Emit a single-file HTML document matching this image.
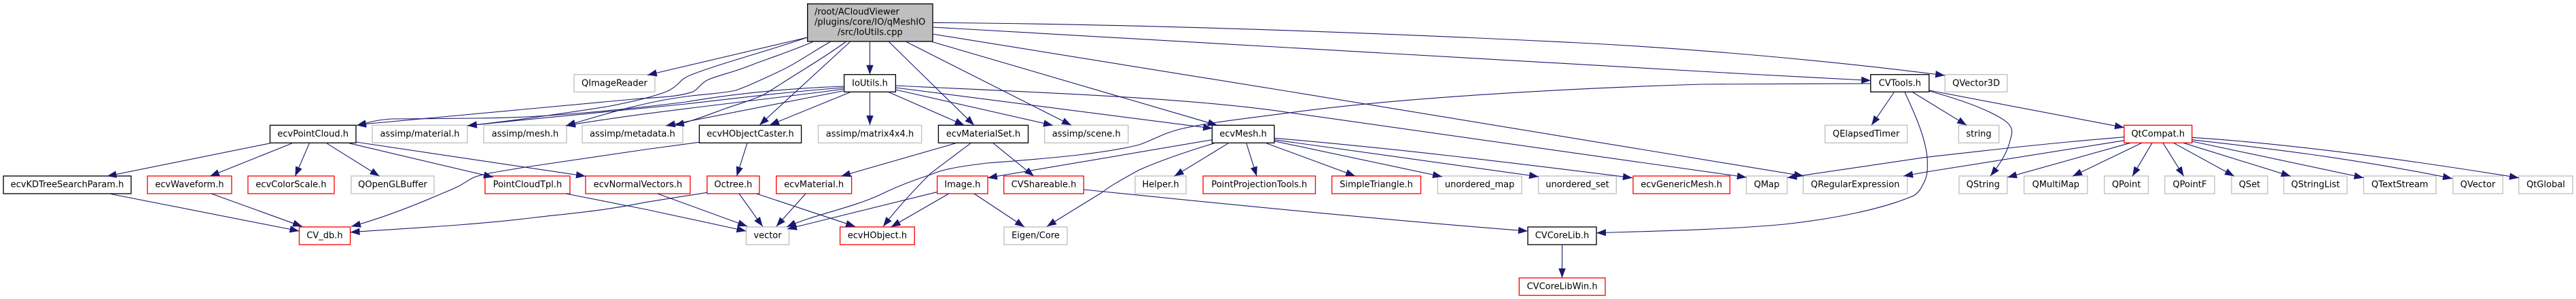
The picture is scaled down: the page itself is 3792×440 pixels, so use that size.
<!DOCTYPE html>
<html>
<head>
<meta charset="utf-8">
<title>IoUtils.cpp include graph</title>
<style>
html,body{margin:0;padding:0;background:#fff}
svg{display:block}
text{font-family:"DejaVu Sans","Liberation Sans",sans-serif;font-size:13px;fill:#000;text-anchor:middle}
.n rect{fill:#fff;stroke-width:1.33}
.g rect{stroke:#bfbfbf}
.k rect{stroke:#000}
.r rect{stroke:#ff0000}
.e path{fill:none;stroke:#191970;stroke-width:1.1;marker-end:url(#a)}
</style>
</head>
<body>
<svg xmlns="http://www.w3.org/2000/svg" width="3792" height="440" viewBox="0 0 3792 440">
<defs>
<marker id="a" markerUnits="userSpaceOnUse" markerWidth="16" markerHeight="12" refX="14" refY="6" orient="auto">
<path d="M0,0.8 L14,6 L0,11.2z" fill="#191970" stroke="none"/>
</marker>
</defs>
<rect width="3792" height="440" fill="#fff"/>

<g class="n">
<rect x="1188.7" y="5.7" width="184.3" height="55.3" style="fill:#bfbfbf;stroke:#000"/>
<text x="1199" y="21.7" style="text-anchor:start">/root/ACloudViewer</text>
<text x="1199" y="36.7" style="text-anchor:start">/plugins/core/IO/qMeshIO</text>
<text x="1280.8" y="51.7">/src/IoUtils.cpp</text>
</g>

<g class="n k">
<rect x="1242.6" y="109.7" width="75.8" height="25.6"/><text x="1280.5" y="126.4">IoUtils.h</text>
<rect x="2753.7" y="109.7" width="86" height="25.6"/><text x="2796.7" y="126.4">CVTools.h</text>
<rect x="397.5" y="184.3" width="126.5" height="26"/><text x="460.7" y="201">ecvPointCloud.h</text>
<rect x="1029.4" y="184.3" width="150.2" height="26"/><text x="1104.5" y="201">ecvHObjectCaster.h</text>
<rect x="1381.4" y="184.3" width="132.1" height="26"/><text x="1447.4" y="201">ecvMaterialSet.h</text>
<rect x="1784.3" y="184.3" width="91.5" height="26"/><text x="1830" y="201">ecvMesh.h</text>
<rect x="5" y="259" width="188" height="26"/><text x="99" y="275.7">ecvKDTreeSearchParam.h</text>
<rect x="2249" y="334" width="101" height="26"/><text x="2299.5" y="350.7">CVCoreLib.h</text>
</g>

<g class="n g">
<rect x="845" y="109.7" width="119" height="25.6"/><text x="904.5" y="126.4">QImageReader</text>
<rect x="2863.2" y="109.7" width="91.5" height="25.6"/><text x="2909" y="126.4">QVector3D</text>
<rect x="548" y="184.3" width="140" height="26"/><text x="618" y="201">assimp/material.h</text>
<rect x="712" y="184.3" width="122" height="26"/><text x="773" y="201">assimp/mesh.h</text>
<rect x="857" y="184.3" width="148" height="26"/><text x="931" y="201">assimp/metadata.h</text>
<rect x="1204.5" y="184.3" width="152.1" height="26"/><text x="1280.5" y="201">assimp/matrix4x4.h</text>
<rect x="1537.7" y="184.3" width="123" height="26"/><text x="1599.2" y="201">assimp/scene.h</text>
<rect x="2686.5" y="184.3" width="121.1" height="26"/><text x="2747" y="201">QElapsedTimer</text>
<rect x="2883.2" y="184.3" width="59.4" height="26"/><text x="2912.9" y="201">string</text>
<rect x="517" y="259" width="122" height="26"/><text x="578" y="275.7">QOpenGLBuffer</text>
<rect x="1671" y="259" width="75" height="26"/><text x="1708.5" y="275.7">Helper.h</text>
<rect x="2116.3" y="259" width="123.7" height="26"/><text x="2178.1" y="275.7">unordered_map</text>
<rect x="2264.7" y="259" width="114.6" height="26"/><text x="2322" y="275.7">unordered_set</text>
<rect x="2570.7" y="259" width="60" height="26"/><text x="2600.7" y="275.7">QMap</text>
<rect x="2654.3" y="259" width="153.3" height="26"/><text x="2731" y="275.7">QRegularExpression</text>
<rect x="2883.8" y="259" width="70.9" height="26"/><text x="2919.2" y="275.7">QString</text>
<rect x="2979.5" y="259" width="93.3" height="26"/><text x="3026.2" y="275.7">QMultiMap</text>
<rect x="3097.7" y="259" width="64.8" height="26"/><text x="3130.1" y="275.7">QPoint</text>
<rect x="3186.8" y="259" width="73.2" height="26"/><text x="3223.4" y="275.7">QPointF</text>
<rect x="3285" y="259" width="53" height="26"/><text x="3311.5" y="275.7">QSet</text>
<rect x="3361.9" y="259" width="93.1" height="26"/><text x="3408.5" y="275.7">QStringList</text>
<rect x="3479.4" y="259" width="106.6" height="26"/><text x="3532.7" y="275.7">QTextStream</text>
<rect x="3610.9" y="259" width="73.3" height="26"/><text x="3647.5" y="275.7">QVector</text>
<rect x="3707.8" y="259" width="79.4" height="26"/><text x="3747.5" y="275.7">QtGlobal</text>
<rect x="1098.4" y="334" width="63.1" height="26"/><text x="1130" y="350.7">vector</text>
<rect x="1478" y="334" width="93" height="26"/><text x="1524.5" y="350.7">Eigen/Core</text>
</g>

<g class="n r">
<rect x="3126.8" y="184.3" width="99.9" height="26"/><text x="3176.7" y="201">QtCompat.h</text>
<rect x="217" y="259" width="124" height="26"/><text x="279" y="275.7">ecvWaveform.h</text>
<rect x="365" y="259" width="127" height="26"/><text x="428.5" y="275.7">ecvColorScale.h</text>
<rect x="714" y="259" width="125" height="26"/><text x="776.5" y="275.7">PointCloudTpl.h</text>
<rect x="862" y="259" width="154" height="26"/><text x="939" y="275.7">ecvNormalVectors.h</text>
<rect x="1040.9" y="259" width="76.9" height="26"/><text x="1079.3" y="275.7">Octree.h</text>
<rect x="1142.7" y="259" width="110.9" height="26"/><text x="1198.1" y="275.7">ecvMaterial.h</text>
<rect x="1379.6" y="259" width="74.4" height="26"/><text x="1416.8" y="275.7">Image.h</text>
<rect x="1477.7" y="259" width="117.6" height="26"/><text x="1536.5" y="275.7">CVShareable.h</text>
<rect x="1771" y="259" width="165.4" height="26"/><text x="1853.7" y="275.7">PointProjectionTools.h</text>
<rect x="1960.6" y="259" width="130.9" height="26"/><text x="2026" y="275.7">SimpleTriangle.h</text>
<rect x="2404" y="259" width="142.5" height="26"/><text x="2475.2" y="275.7">ecvGenericMesh.h</text>
<rect x="440.5" y="334" width="75.1" height="26"/><text x="478" y="350.7">CV_db.h</text>
<rect x="1236.6" y="334" width="109.7" height="26"/><text x="1291.4" y="350.7">ecvHObject.h</text>
<rect x="2236.3" y="409" width="126.7" height="25.6"/><text x="2299.6" y="425.7">CVCoreLibWin.h</text>
</g>

<g class="e">
<!-- root -->
<path d="M1188.7,55 L953,110.5"/>
<path d="M1188.7,55 C1130,75 1045,98 1013,112 C1000,118 1000,125 985,133 C965,142 930,150 893,157 C830,167 760,177 688,185"/>
<path d="M1198,61 C1165,75 1135,85 1113,93 C1085,105 1060,110 1043,117 C1030,123 1030,130 1020,135 C1000,142 975,143 943,145 L543,182 L525,184.5"/>
<path d="M1223,61 C1190,80 1170,95 1143,107 C1115,120 1100,127 1083,133 C1060,138 1040,138 1010,142 C950,150 900,165 833,185"/>
<path d="M1245.7,61 C1220,80 1190,98 1166,113 C1150,123 1140,130 1123,140 C1100,150 1090,152 1067,160 C1045,168 1020,178 993,184.5"/>
<path d="M1252,61 L1118,184"/>
<path d="M1280.5,61 L1280.5,109.7"/>
<path d="M1308,61 L1434,184.3"/>
<path d="M1333,61 L1577,184.3"/>
<path d="M1372,61.5 L1792,184.3"/>
<path d="M1372.3,50 L1900,135 L2655,259"/>
<path d="M1373,40 C1600,52 2200,90 2754,118.5"/>
<path d="M1373,33.3 C1600,35 1900,42 2324,63 C2500,72 2700,90 2863,111"/>
<!-- IoUtils -->
<path d="M1242.6,127 C1160,130 1080,138 1010,150 C930,160 800,174 700,174 L577,175 C555,176 545,180 525,184.5"/>
<path d="M1242.6,129 C1160,135 1080,145 1010,153 C920,162 800,173 688,185"/>
<path d="M1242.6,131 C1100,150 950,165 833,185"/>
<path d="M1242.6,133.5 L980,185"/>
<path d="M1252,135.5 L1133,184"/>
<path d="M1280.5,135.5 L1280.5,184"/>
<path d="M1308,135.5 L1419.6,184.3"/>
<path d="M1318.4,132 L1550,184.5"/>
<path d="M1318.4,129 L1785,189"/>
<path d="M1318.4,126 C1500,135 1750,143 1900,166 L2571,261"/>
<!-- PointCloud -->
<path d="M400,210.3 L157.5,259.3"/>
<path d="M431.4,210.3 L309,259.3"/>
<path d="M455.6,210.3 L434.4,259.3"/>
<path d="M480,210.3 L558.6,259.3"/>
<path d="M512,210.3 L726,260.7"/>
<path d="M524,209 L862,259.3"/>
<path d="M160.6,285 L440.5,340"/>
<path d="M311,285 L445,333.3"/>
<!-- Caster -->
<path d="M1100,210.3 L1084.5,259.3"/>
<path d="M1029.4,209.3 L950,220 L773,246 C745,251 720,254 700,260 C690,264 682,271 673,275 C665,279 657,282 650,285 C620,298 570,319 517,333.3"/>
<!-- Octree -->
<path d="M1041,283.3 L950,297.7 C890,310 840,314 788,320 C700,331 600,336 515.6,341.7"/>
<path d="M1088,285 L1122.7,333.3"/>
<path d="M1113.6,285 L1259,333.3"/>
<!-- vector feeders -->
<path d="M968,285 L1100,333"/>
<path d="M833,285 L950,308 L1098.4,340"/>
<path d="M1186,285 L1142.7,333.3"/>
<!-- MaterialSet -->
<path d="M1407,210.7 L1238,259.3"/>
<path d="M1429,210.7 C1410,225 1390,240 1370,255 C1340,285 1318,310 1300,333.3"/>
<path d="M1462,210.7 L1522,259.3"/>
<!-- Image -->
<path d="M1379,282.7 L1159,337"/>
<path d="M1396.7,285 L1311.7,334"/>
<path d="M1434,285 L1508,334"/>
<!-- CVShareable -->
<path d="M1595.3,279 C1800,300 2050,325 2249,340"/>
<!-- ecvMesh -->
<path d="M1784.3,205.7 L1454,261.7"/>
<path d="M1789,210.3 C1740,225 1700,240 1677,250 C1650,265 1635,273 1622.5,283 C1595,300 1570,315 1541,333.3"/>
<path d="M1809,210.3 L1728.6,259.3"/>
<path d="M1834.6,210.3 L1850,259.3"/>
<path d="M1862,210 L1995,259"/>
<path d="M1876,207.7 L2123,260"/>
<path d="M1876,205.7 C2000,222 2130,240 2265,260"/>
<path d="M1876,203.3 C2050,218 2230,240 2403,261.7"/>
<!-- CVTools -->
<path d="M2753.7,123 L2506,124 C2300,130 2050,145 1900,165.7 C1830,175 1780,180 1737,190 C1710,197 1700,205 1677,213 C1630,225 1560,232 1453,240 C1420,244 1390,248 1370,257 C1345,265 1320,275 1303,283 C1260,305 1200,315 1158,334"/>
<path d="M2788,136 L2755,184.3"/>
<path d="M2816,136 L2895,184.3"/>
<path d="M2840,134 C2880,145 2925,160 2950,176.7 C2965,187 2962,196 2960,203 C2955,225 2945,240 2930,259"/>
<path d="M2840,133 L3127,187.7"/>
<path d="M2804,136 C2820,170 2835,205 2837,233 C2838,250 2837,258 2833,267 C2828,277 2825,283 2817,288 C2770,308 2700,322 2627,330 C2540,338 2440,340 2350,342.7"/>
<path d="M2299.5,360.5 L2299.5,409"/>
<!-- QtCompat -->
<path d="M3127,201.7 C3000,212 2920,222 2833,231.7 L2631,261.5"/>
<path d="M3127,206.7 L2842,252 L2802,259"/>
<path d="M3136,210.3 L2955,261"/>
<path d="M3153,210.3 L3051,259.3"/>
<path d="M3168,210.3 L3139,259.3"/>
<path d="M3184,210.3 L3214.6,259.3"/>
<path d="M3199.5,210.3 L3289,259.3"/>
<path d="M3214,210.3 L3372,259.3"/>
<path d="M3226.7,208 L3479.4,261.6"/>
<path d="M3226.7,205.7 C3300,214 3450,230 3610,262.7"/>
<path d="M3226.7,202.3 C3300,207 3450,220 3708,261.7"/>
</g>
</svg>
</body>
</html>
